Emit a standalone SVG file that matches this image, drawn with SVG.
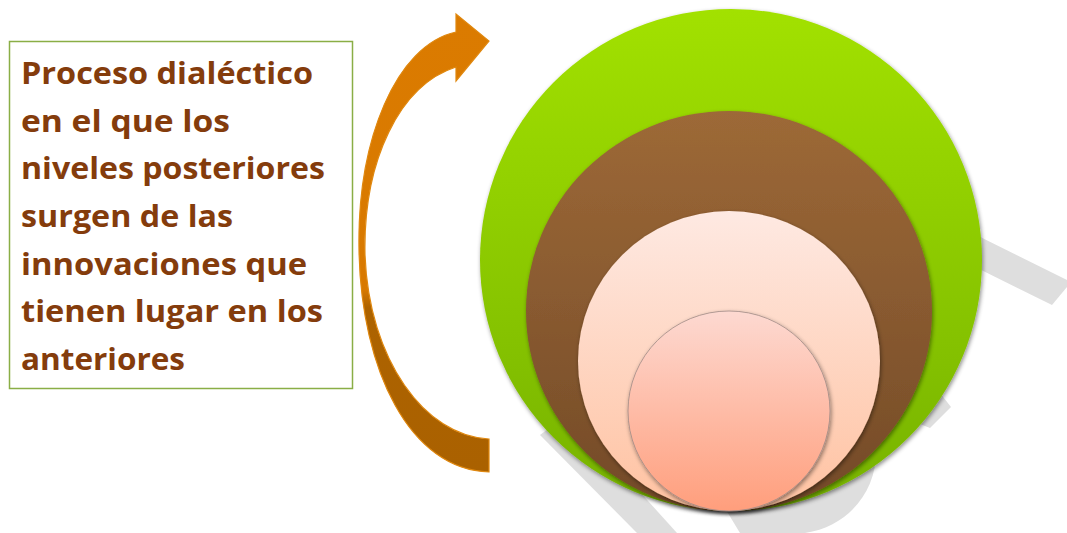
<svg xmlns="http://www.w3.org/2000/svg" width="1067" height="533" viewBox="0 0 1067 533">
  <defs>
    <linearGradient id="gGreen" x1="0" y1="0" x2="0" y2="1">
      <stop offset="0" stop-color="#a2e100"/>
      <stop offset="1" stop-color="#76b200"/>
    </linearGradient>
    <linearGradient id="gBrown" x1="0" y1="0" x2="0" y2="1">
      <stop offset="0" stop-color="#9d6937"/>
      <stop offset="1" stop-color="#734a28"/>
    </linearGradient>
    <linearGradient id="gPeach" x1="0" y1="0" x2="0" y2="1">
      <stop offset="0" stop-color="#fee9e2"/>
      <stop offset="1" stop-color="#ffc2a1"/>
    </linearGradient>
    <linearGradient id="gInner" x1="0" y1="0" x2="0" y2="1">
      <stop offset="0" stop-color="#fdd9d1"/>
      <stop offset="1" stop-color="#ff9e7c"/>
    </linearGradient>
    <linearGradient id="gArrow" gradientUnits="userSpaceOnUse" x1="0" y1="14" x2="0" y2="473">
      <stop offset="0" stop-color="#db7b00"/>
      <stop offset="0.6" stop-color="#d87900"/>
      <stop offset="0.64" stop-color="#ad6300"/>
      <stop offset="1" stop-color="#aa6100"/>
    </linearGradient>
    <filter id="shadow" x="-10%" y="-10%" width="120%" height="120%">
      <feDropShadow dx="1" dy="2" stdDeviation="2" flood-color="#000" flood-opacity="0.45"/>
    </filter>
    <style>
      .wm { fill: #dedede; }
      .label { font-family: "Open Sans", "Liberation Sans", sans-serif; font-weight: 700; font-size: 30px; fill: #843c0c; }
    </style>
  </defs>
  <rect width="1067" height="533" fill="#ffffff"/>

  <!-- faint background watermark strokes -->
  <g id="watermark">
    <polygon class="wm" points="950,222 1067,280 1067,287 1052,305 945,252"/>
    <polygon class="wm" points="915,392 940,393 951,407 930,428 910,420"/>
    <polygon class="wm" points="560,420 540,435 637,533 677,533 620,470"/>
    <path class="wm" d="M720,500 L870,420 C890,470 860,525 805,533 L740,533 Z"/>
  </g>

  <g id="text-box">
    <rect x="9.5" y="41.5" width="343" height="347" fill="#ffffff" stroke="#8aae46" stroke-width="1.5"/>
    <text class="label" x="21" y="84" textLength="292" lengthAdjust="spacingAndGlyphs">Proceso dialéctico</text>
    <text class="label" x="21" y="132" textLength="209" lengthAdjust="spacingAndGlyphs">en el que los</text>
    <text class="label" x="21" y="179" textLength="304" lengthAdjust="spacingAndGlyphs">niveles posteriores</text>
    <text class="label" x="21" y="227" textLength="212" lengthAdjust="spacingAndGlyphs">surgen de las</text>
    <text class="label" x="21" y="275" textLength="286" lengthAdjust="spacingAndGlyphs">innovaciones que</text>
    <text class="label" x="21" y="322" textLength="302" lengthAdjust="spacingAndGlyphs">tienen lugar en los</text>
    <text class="label" x="21" y="370" textLength="164" lengthAdjust="spacingAndGlyphs">anteriores</text>
  </g>

  <g id="connectors">
    <path id="curved-arrow" d="M456,32 C396,45 357,140 359,250 C361,370 410,470 489,472 L489,439 C425,436 369,360 365,255 C363,160 400,85 456,67 L456,81 L489,41 L456,14 Z" fill="url(#gArrow)" stroke="#e0880f" stroke-width="1.2" stroke-linejoin="miter"/>
  </g>

  <g id="level-1">
    <ellipse cx="731" cy="260" rx="251" ry="251" fill="url(#gGreen)" filter="url(#shadow)"/>
  </g>
  <g id="level-2">
    <ellipse cx="729" cy="311" rx="203" ry="200" fill="url(#gBrown)" filter="url(#shadow)"/>
  </g>
  <g id="level-3">
    <ellipse cx="729" cy="361" rx="151" ry="150" fill="url(#gPeach)" filter="url(#shadow)"/>
  </g>
  <g id="level-4">
    <ellipse cx="729" cy="411" rx="101" ry="100" fill="url(#gInner)" stroke="#a08a85" stroke-width="0.8" filter="url(#shadow)"/>
  </g>
</svg>
